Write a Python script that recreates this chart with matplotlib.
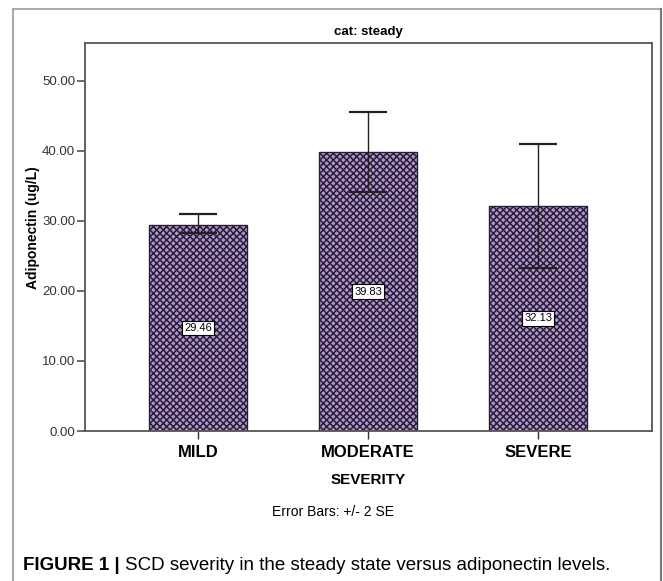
import matplotlib
matplotlib.use("Agg")
import matplotlib.pyplot as plt
from matplotlib.lines import Line2D

categories = ["MILD", "MODERATE", "SEVERE"]
means = [29.46, 39.83, 32.13]
err_low = [28.2, 34.1, 23.3]
err_high = [31.0, 45.6, 41.0]
yticks = [0, 10, 20, 30, 40, 50]
title = "cat: steady"
xlabel = "SEVERITY"
ylabel = "Adiponectin (ug/L)"
note = "Error Bars: +/- 2 SE"

plt.rcParams['font.family'] = ['Liberation Sans', 'DejaVu Sans']
plt.rcParams['hatch.linewidth'] = 1.1
plt.rcParams['hatch.color'] = '#2a1c3a'

W, H = 663, 581
fig = plt.figure(figsize=(W / 100, H / 100), dpi=100)
fig.patch.set_facecolor('white')

ax = fig.add_axes([85 / W, 1 - 431 / H, (652 - 85) / W, (431 - 43) / H])
x = list(range(len(categories)))
bars = ax.bar(x, means, width=0.576, color='#ad98c9', edgecolor='#2a1c3a',
              linewidth=1.0, hatch='xxxxx', zorder=2)
lower = [m - l for m, l in zip(means, err_low)]
upper = [h - m for m, h in zip(means, err_high)]
ax.errorbar(x, means, yerr=[lower, upper], fmt='none', ecolor='#222222',
            elinewidth=1.0, capsize=14, capthick=1.6, zorder=3)
for xi, m in zip(x, means):
    ax.text(xi, m / 2, f"{m:.2f}", ha='center', va='center', fontsize=8,
            zorder=4,
            bbox=dict(boxstyle='square,pad=0.2', fc='white', ec='black', lw=0.8))

ax.set_xlim(-0.665, 2.67)
ax.set_ylim(0, 55.4)
ax.set_yticks(yticks)
ax.set_yticklabels([f"{v:.2f}" for v in yticks], fontsize=9.5, color='#333333')
ax.set_xticks(x)
ax.set_xticklabels(categories, fontsize=12, fontweight='bold')
ax.tick_params(axis='y', length=6, width=1.2, color='#555555', pad=1)
ax.tick_params(axis='x', length=6, width=1.0, color='#333333', pad=4)
for s in ax.spines.values():
    s.set_color('#555555')
    s.set_linewidth(1.3)

fig.text(368 / W, 1 - 32 / H, title, ha='center', va='center', fontsize=9.5,
         fontweight='bold')
fig.text(368 / W, 1 - 480 / H, xlabel, ha='center', va='center', fontsize=11,
         fontweight='bold')
fig.text(333 / W, 1 - 512 / H, note, ha='center', va='center', fontsize=10)
fig.text(33 / W, 1 - 228 / H, ylabel, ha='center', va='center', fontsize=10,
         fontweight='bold', rotation=90)

t1 = fig.text(23 / W, 1 - 565 / H, "FIGURE 1 | ", ha='left', va='center',
              fontsize=13.5, fontweight='bold')
fig.canvas.draw()
bb = t1.get_window_extent()
fig.text(bb.x1 / W, 1 - 565 / H, "SCD severity in the steady state versus adiponectin levels.",
         ha='left', va='center', fontsize=13.5)

# outer frame
fig.add_artist(Line2D([13 / W, 13 / W], [0, 1 - 9 / H], transform=fig.transFigure,
                      color='#aaaaaa', lw=1.5))
fig.add_artist(Line2D([13 / W, 661 / W], [1 - 9 / H, 1 - 9 / H], transform=fig.transFigure,
                      color='#aaaaaa', lw=1.5))
fig.add_artist(Line2D([661 / W, 661 / W], [0, 1 - 9 / H], transform=fig.transFigure,
                      color='#777777', lw=1.5))

fig.savefig("out.png", dpi=100)
